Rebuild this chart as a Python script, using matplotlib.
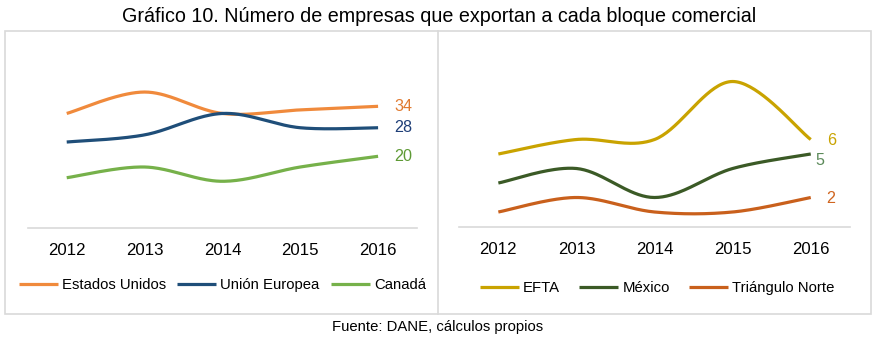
import numpy as np
import matplotlib
matplotlib.use("Agg")
import matplotlib.pyplot as plt
from matplotlib.lines import Line2D
from matplotlib.patches import Rectangle
from matplotlib import font_manager

names = {f.name for f in font_manager.fontManager.ttflist}
NARROW = "Liberation Sans Narrow" in names
FONT = "Liberation Sans Narrow" if NARROW else "Liberation Sans"
plt.rcParams['font.family'] = [FONT, 'DejaVu Sans']
k = 1.0 if NARROW else 0.86  # shrink wide fallback font to match text widths

years = ["2012", "2013", "2014", "2015", "2016"]

left_names = ["Estados Unidos", "Unión Europea", "Canadá"]
estados_unidos = [32, 38, 32, 33, 34]
union_europea = [24, 26, 32, 28, 28]
canada = [14, 17, 13, 17, 20]
left_colors = ["#F08A3C", "#1F4E79", "#76B14A"]
left_label_colors = ["#E07A30", "#1F3F78", "#5E9A35"]

right_names = ["EFTA", "México", "Triángulo Norte"]
efta = [5, 6, 6, 10, 6]
mexico = [3, 4, 2, 4, 5]
triangulo_norte = [1, 2, 1, 1, 2]
right_colors = ["#C9A300", "#3B5A26", "#C9601C"]
right_label_colors = ["#C9A300", "#5C8A5A", "#D0651F"]


def smooth(x, y, n=40):
    x = np.asarray(x, float)
    y = np.asarray(y, float)
    P = np.column_stack([x, y])
    Pe = np.vstack([P[0], P, P[-1]])
    out = []
    t = np.linspace(0, 1, n)[:, None]
    for i in range(len(P) - 1):
        p0, p1, p2, p3 = Pe[i], Pe[i + 1], Pe[i + 2], Pe[i + 3]
        c1 = p1 + (p2 - p0) / 6.0
        c2 = p2 - (p3 - p1) / 6.0
        seg = ((1 - t) ** 3) * p1 + 3 * ((1 - t) ** 2) * t * c1 + 3 * (1 - t) * t ** 2 * c2 + t ** 3 * p2
        out.append(seg if i == 0 else seg[1:])
    out = np.vstack(out)
    return out[:, 0], out[:, 1]


W, H = 879, 344
fig = plt.figure(figsize=(W / 100, H / 100), dpi=100)

# frame
fig.patches.append(Rectangle((5.5 / W, 1 - 314 / H), (871 - 5.5) / W, (314 - 31) / H,
                             transform=fig.transFigure, fill=False, ec="#D9D9D9", lw=1.2))
fig.lines.append(Line2D([437.7 / W, 437.7 / W], [1 - 314 / H, 1 - 31 / H],
                        transform=fig.transFigure, color="#D9D9D9", lw=1.2))

fig.text(439 / W, 1 - 16.5 / H, "Gráfico 10. Número de empresas que exportan a cada bloque comercial",
         ha="center", va="center", fontsize=16.5 * k, color="#000000")
fig.text(438 / W, 1 - 327 / H, "Fuente: DANE, cálculos propios", ha="center", va="center",
         fontsize=12.5 * k, color="#000000")

LEG_FS = 12.5 * k


def panel(rect, ymax, series, names_, colors, lcolors, label_off, legend_xy, colspace):
    ax = fig.add_axes(rect)
    x = np.arange(len(years))
    for vals, nm, c in zip(series, names_, colors):
        sx, sy = smooth(x, vals)
        ax.plot(sx, sy, color=c, lw=2.3, label=nm, solid_capstyle="butt")
    for vals, lc, off in zip(series, lcolors, label_off):
        ax.annotate(str(vals[-1]), (x[-1], vals[-1]), xytext=off, textcoords="offset points",
                    ha="left", va="center", fontsize=13.5 * k, color=lc)
    ax.set_xlim(-0.5, len(years) - 0.5)
    ax.set_ylim(0, ymax)
    ax.set_xticks(x)
    ax.set_xticklabels(years, fontsize=14 * k)
    ax.set_yticks([])
    for s in ["top", "left", "right"]:
        ax.spines[s].set_visible(False)
    ax.spines["bottom"].set_color("#D9D9D9")
    ax.spines["bottom"].set_linewidth(1.2)
    ax.tick_params(axis="x", length=0, pad=11)
    ax.patch.set_visible(False)
    ax.legend(loc="center", bbox_to_anchor=legend_xy, ncol=3, frameon=False,
              fontsize=LEG_FS, handlelength=28 / LEG_FS, handletextpad=3 / LEG_FS,
              columnspacing=colspace / LEG_FS, borderaxespad=0)
    return ax


panel([27.8 / W, 1 - 227.7 / H, (417 - 27.8) / W, 178.5 / H], 50,
      [estados_unidos, union_europea, canada], left_names, left_colors, left_label_colors,
      [(11.5, 0), (11.5, 0), (11.5, 0)], (0.5, -0.322), 8)
panel([459.3 / W, 1 - 226.5 / H, (849.8 - 459.3) / W, 174 / H], 12,
      [efta, mexico, triangulo_norte], right_names, right_colors, right_label_colors,
      [(11.5, -1), (3, -5), (11.5, -1)], (0.507, -0.355), 14)

fig.savefig("out.png", dpi=100)
